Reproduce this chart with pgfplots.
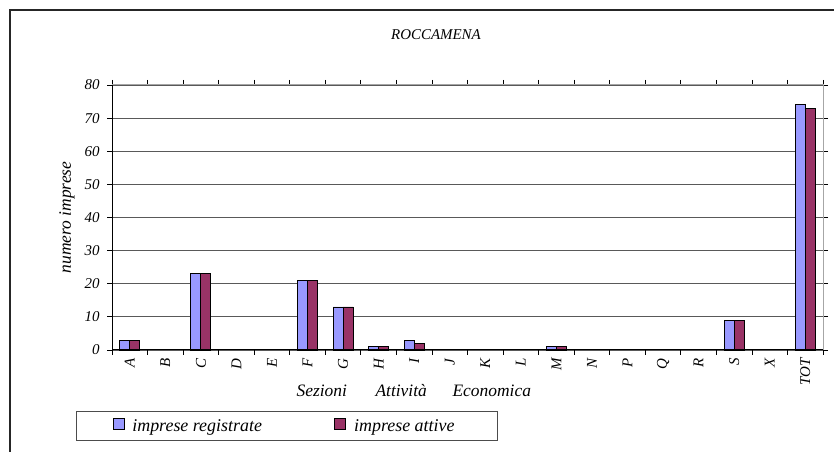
\documentclass[border=0pt]{standalone}
\usepackage{fontspec}
\setmainfont{Liberation Serif}
\usepackage{pgfplots}
\pgfplotsset{compat=1.18}
\definecolor{reg}{HTML}{9999FF}
\definecolor{att}{HTML}{993366}
\begin{document}
\begin{tikzpicture}[x=1bp,y=1bp]
\useasboundingbox (0,0) rectangle (834,452);
\draw[line width=1.3bp, black!85] (10,-5) -- (10,442) -- (840,442);
\node[anchor=base, font=\fontsize{15}{15}\selectfont\itshape] at (436,412) {ROCCAMENA};
\begin{axis}[
  at={(112bp,102bp)}, anchor=south west,
  scale only axis, width=711bp, height=265bp,
  ymin=0, ymax=80, ytick={0,10,...,80},
  xmin=-0.5, xmax=19.5,
  xtick={0,...,19},
  xticklabels={A,B,C,D,E,F,G,H,I,J,K,L,M,N,P,Q,R,S,X,TOT},
  minor xtick={-0.5,0.5,...,19.5},
  major x tick style={draw=none},
  minor x tick style={black, line width=0.8bp},
  ytick style={black, line width=0.8bp},
  tick align=outside,
  major tick length=5bp, minor tick length=5bp,
  ymajorgrids,
  grid style={black!65, line width=0.8bp},
  axis line style={gray!70, line width=1bp},
  /pgf/number format/assume math mode=true,
  yticklabel style={font=\fontsize{15}{15}\selectfont\itshape, xshift=-4bp},
  xticklabel style={font=\fontsize{15}{15}\selectfont\itshape, rotate=90, anchor=east},
  ylabel={numero imprese},
  ylabel style={font=\fontsize{17.5}{17.5}\selectfont\itshape, at={(axis description cs:-0.0633,0.5)}, anchor=center},
  ybar=0pt, bar width=10bp,
  unbounded coords=discard,
  y filter/.expression={y==0 ? nan : y},
  legend columns=2,
  legend style={at={(axis description cs:-0.0506,-0.2302)}, anchor=north west,
    draw=black!70, line width=1bp, inner xsep=36bp, inner ysep=7bp,
    nodes={inner sep=0bp}, font=\fontsize{18}{18}\selectfont\itshape},
  legend image code/.code={\draw[#1, draw=black, line width=0.8bp] (0bp,-3.5bp) rectangle (11bp,7.5bp);},
  clip=false,
]
\addplot[fill=reg, draw=black, line width=0.8bp] coordinates {
(0,3) (1,0) (2,23) (3,0) (4,0) (5,21) (6,13) (7,1) (8,3) (9,0)
(10,0) (11,0) (12,1) (13,0) (14,0) (15,0) (16,0) (17,9) (18,0) (19,74)};
\addlegendentry{\makebox[210bp][l]{\hspace{8bp}imprese registrate}}
\addplot[fill=att, draw=black, line width=0.8bp] coordinates {
(0,3) (1,0) (2,23) (3,0) (4,0) (5,21) (6,13) (7,1) (8,2) (9,0)
(10,0) (11,0) (12,1) (13,0) (14,0) (15,0) (16,0) (17,9) (18,0) (19,73)};
\addlegendentry{\makebox[115bp][l]{\hspace{8bp}imprese attive}}
\draw[black, line width=1bp] (rel axis cs:0,1) -- (rel axis cs:0,0) -- (rel axis cs:1,0);
\node[anchor=base west, font=\fontsize{17.5}{17.5}\selectfont\itshape] at (axis description cs:0.2546,-0.177) {Sezioni};
\node[anchor=base west, font=\fontsize{17.5}{17.5}\selectfont\itshape] at (axis description cs:0.3657,-0.177) {Attività};
\node[anchor=base west, font=\fontsize{17.5}{17.5}\selectfont\itshape] at (axis description cs:0.474,-0.177) {Economica};
\end{axis}
\end{tikzpicture}
\end{document}
